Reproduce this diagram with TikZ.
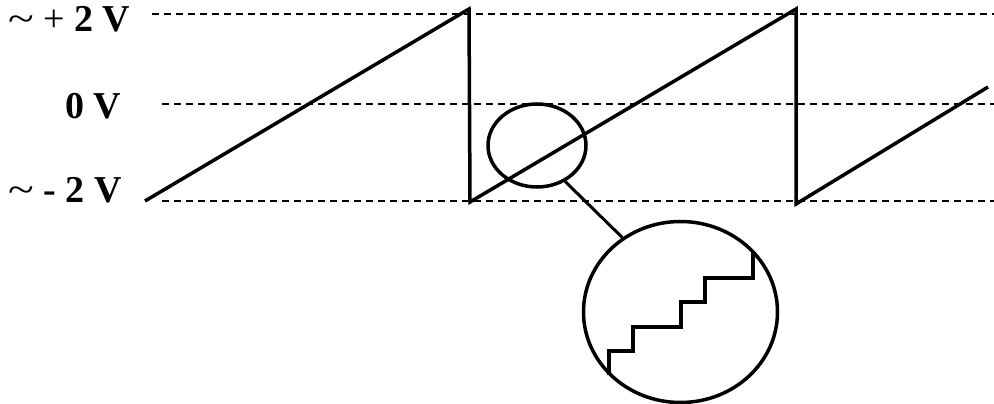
\documentclass[tikz,border=0pt]{standalone}
\usepackage{fontspec}
\setmainfont{Liberation Serif}
\usetikzlibrary{shapes.geometric}
\begin{document}
\begin{tikzpicture}[x=1pt,y=-1pt,
  guide/.style={line width=1.6pt,dash pattern=on 7pt off 5pt},
  wave/.style={line width=3.5pt,line join=miter},
  ring/.style={line width=3.5pt},
  lbl/.style={inner sep=0pt,font=\fontsize{38}{44}\selectfont}]
\useasboundingbox (0,0) rectangle (994,404);
% guide lines
\coordinate (t0) at (152,14); \coordinate (t1) at (994,14);
\coordinate (m0) at (162,104); \coordinate (m1) at (994,104);
\coordinate (b0) at (162,201); \coordinate (b1) at (994,201);
\draw[guide] (t0) -- (t1);
\draw[guide] (m0) -- (m1);
\draw[guide] (b0) -- (b1);
% labels
\node[lbl,anchor=base west] (lp) at (8,32) {\scalebox{1.25}[1]{\char`\~}\ + \textbf{2 V}};
\node[lbl,anchor=base west] (lz) at (65,118) {\textbf{0 V}};
\node[lbl,anchor=base west] (lm) at (8,202) {\scalebox{1.25}[1]{\char`\~}\ \textbf{- 2 V}};
% sawtooth
\coordinate (s0) at (145,201);
\coordinate (p1) at (469,9);
\coordinate (v1) at (470,202);
\coordinate (p2) at (796,9);
\coordinate (v2) at (796,204);
\coordinate (s3) at (988,87);
\draw[wave] (s0) -- (p1) -- (v1) -- (p2) -- (v2) -- (s3);
% zoom ellipse and magnified view
\node[ring,draw,ellipse,minimum width=98pt,minimum height=83pt,inner sep=0pt] (small) at (537,145.5) {};
\node[ring,draw,ellipse,minimum width=194pt,minimum height=181pt,inner sep=0pt] (big) at (680.5,312) {};
\draw[line width=3pt] (small.-52) -- (big.128);
% staircase
\draw[wave] (609,375) -- (609,351) -- (633,351) -- (633,327) -- (681,327)
  -- (681,302) -- (705,302) -- (705,278) -- (753,278) -- (753,253);
\end{tikzpicture}
\end{document}
